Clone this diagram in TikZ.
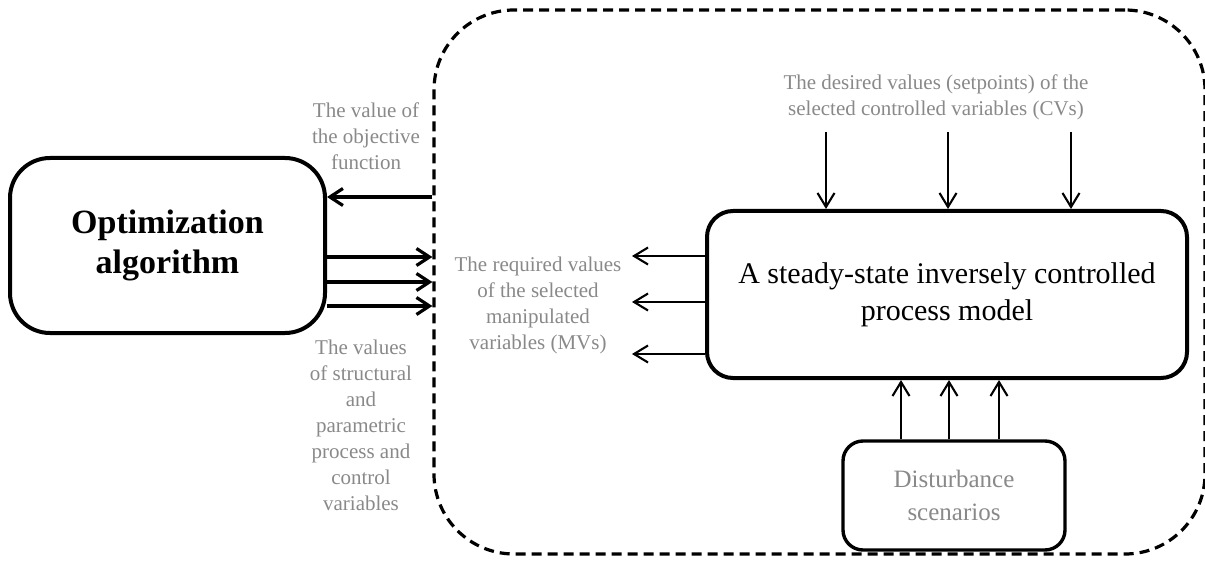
\documentclass[tikz,border=0pt]{standalone}
\usepackage{fontspec}
\setmainfont{Liberation Serif}
\usetikzlibrary{arrows.meta}
\definecolor{labelgray}{RGB}{137,137,137}
\begin{document}
\begin{tikzpicture}[x=1pt,y=-1pt,
  block/.style={draw,line width=4pt,inner sep=0pt,align=center},
  frame/.style={draw,line width=3.2pt,dash pattern=on 10pt off 6pt,rounded corners=80pt,inner sep=0pt},
  label/.style={text=labelgray,align=center,inner sep=0pt,font=\fontsize{21}{26}\selectfont},
  thickarrow/.style={line width=3.2pt,-{Straight Barb[length=13pt,width=17pt,line width=3.2pt]}},
  thinarrow/.style={line width=2.1pt,-{Straight Barb[length=14pt,width=17pt,line width=2.1pt]}}]
\useasboundingbox (0,0) rectangle (1205,564);

% dashed boundary of the simulated process
\node[frame,minimum width=771pt,minimum height=544pt] (frame) at (819.5,282) {};

% optimizer
\node[block,rounded corners=40pt,minimum width=315pt,minimum height=175pt,
      font=\bfseries\fontsize{34}{40}\selectfont] (opt) at (167.5,245.5)
      {Optimization\\algorithm};

% process model
\node[block,rounded corners=26pt,minimum width=480pt,minimum height=167pt,
      font=\fontsize{30}{37}\selectfont] (model) at (947,294.5)
      {A steady-state inversely controlled\\process model};

% disturbances
\node[block,line width=3.4pt,rounded corners=20pt,minimum width=222pt,minimum height=109pt,
      text=labelgray,font=\fontsize{25}{33}\selectfont] (dist) at (954,495.5)
      {Disturbance\\scenarios};

% labels
\node[label] (objlab) at (366,136) {The value of\\the objective\\function};
\node[label] (varlab) at (361,425) {The values\\of structural\\and\\parametric\\process and\\control\\variables};
\node[label] (mvlab) at (538,305) {The required values\\of the selected\\manipulated\\variables (MVs)};
\node[label] (cvlab) at (936,97) {The desired values (setpoints) of the\\selected controlled variables (CVs)};

% optimizer <-> process
\draw[thickarrow] (frame.west |- 0,197) -- (opt.east |- 0,197);
\foreach \yy in {257,282,306}
  \draw[thickarrow] (opt.east |- 0,\yy) -- (frame.west |- 0,\yy);

% manipulated variables leaving the model
\foreach \yy [count=\i] in {256,302,354} {
  \coordinate (mv\i) at (632,\yy);
  \draw[thinarrow] (model.west |- mv\i) -- (mv\i);
}

% setpoints entering the model
\foreach \xx [count=\i] in {826,948,1071} {
  \coordinate (cv\i) at (\xx,132);
  \draw[thinarrow] (cv\i) -- (cv\i |- model.north);
}

% disturbances entering the model
\foreach \xx in {901,949,999}
  \draw[thinarrow] (dist.north -| \xx,0) -- (model.south -| \xx,0);
\end{tikzpicture}
\end{document}
